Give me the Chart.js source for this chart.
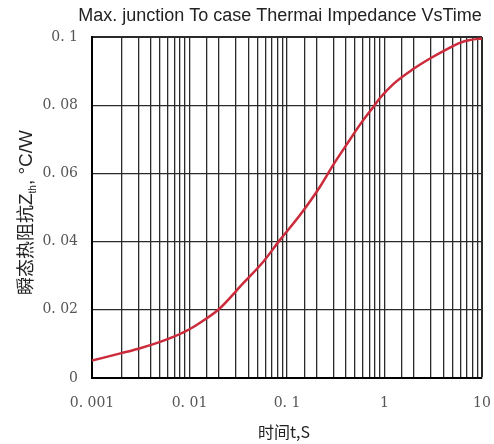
<!DOCTYPE html>
<html>
<head>
<meta charset="utf-8">
<script src="https://cdn.jsdelivr.net/npm/chart.js@4"></script>
<style>
  html, body { margin: 0; padding: 0; background: #fff; }
  #wrap { width: 494px; height: 444px; }
</style>
</head>
<body>
<div id="wrap"><canvas id="chart"></canvas></div>
<script>
// transient thermal impedance vs time
const times = [0.001, 0.002, 0.003, 0.005, 0.007, 0.01, 0.0133, 0.0197, 0.0356, 0.0571, 0.0847, 0.136, 0.218, 0.298, 0.41, 0.561, 0.768, 0.899, 1.23, 1.97, 2.93, 4.34, 5.95, 7.53, 10]
const zth = [0.0051, 0.0073, 0.0086, 0.0106, 0.0122, 0.0143, 0.0165, 0.02, 0.0278, 0.0341, 0.0405, 0.0478, 0.0561, 0.0625, 0.0685, 0.0743, 0.0795, 0.0821, 0.0862, 0.0906, 0.0937, 0.0964, 0.0983, 0.0991, 0.0996]

const xTickValues = [0.001, 0.01, 0.1, 1, 10]
const xTickLabels = ['0. 001', '0. 01', '0. 1', '1', '10']
const yTickValues = [0, 0.02, 0.04, 0.06, 0.08, 0.1]
const yTickLabels = ['0', '0. 02', '0. 04', '0. 06', '0. 08', '0. 1']

const titleText = 'Max. junction To case Thermai Impedance VsTime'
const xTitle = '时间t,S'

const tickFont = { family: "'DejaVu Serif', 'Liberation Serif', serif", size: 14 }

function sameValue(a, b) {
  return Math.abs(a - b) < 1e-9 * Math.max(1, Math.abs(b))
}

// titles drawn by hand so the Z subscript can be placed
const titles = {
  id: 'titles',
  afterDraw(chart) {
    const ctx = chart.ctx
    const area = chart.chartArea
    ctx.save()
    ctx.fillStyle = '#222'
    ctx.textBaseline = 'alphabetic'

    ctx.font = "18px 'Liberation Sans', Arial, sans-serif"
    ctx.textAlign = 'center'
    ctx.fillText(titleText, 280, 21)

    ctx.font = "16px 'Noto Sans CJK SC', 'Liberation Sans', sans-serif"
    ctx.fillText(xTitle, 284, 438)

    // y title, rotated
    ctx.translate(32, (area.top + area.bottom) / 2 + 5)
    ctx.rotate(-Math.PI / 2)
    const cjk = "18px 'Noto Sans CJK SC', sans-serif"
    const lat = "19px 'Liberation Sans', Arial, sans-serif"
    const sub = "10px 'Liberation Sans', Arial, sans-serif"
    const parts = [
      ['瞬态热阻抗', cjk, 0],
      ['Z', lat, 0],
      ['th', sub, 4],
      [', °C/W', lat, 0],
    ]
    let total = 0
    parts.forEach(([t, f]) => { ctx.font = f; total += ctx.measureText(t).width })
    let x = -total / 2
    ctx.textAlign = 'left'
    parts.forEach(([t, f, dy]) => {
      ctx.font = f
      ctx.fillText(t, x, dy)
      x += ctx.measureText(t).width
    })
    ctx.restore()
  },
}

new Chart(document.getElementById('chart'), {
  type: 'line',
  data: {
    datasets: [
      {
        data: times.map((t, i) => ({ x: t, y: zth[i] })),
        borderColor: '#cc2b3b',
        borderWidth: 2.5,
        pointRadius: 0,
        cubicInterpolationMode: 'monotone',
        fill: false,
      },
    ],
  },
  options: {
    responsive: true,
    maintainAspectRatio: false,
    animation: false,
    devicePixelRatio: 1,
    layout: { padding: { top: 37, right: 12, left: 0, bottom: 0 } },
    plugins: {
      legend: { display: false },
      tooltip: { enabled: false },
    },
    scales: {
      x: {
        type: 'logarithmic',
        min: 0.001,
        max: 10,
        afterFit: (scale) => {
          scale.height = 66
          scale.paddingLeft = 0
          scale.paddingRight = 0
        },
        grid: {
          color: '#2a2a2a',
          lineWidth: (c) => (c.tick && sameValue(c.tick.value, 10) ? 2 : 1.3),
          drawTicks: false,
        },
        border: { color: '#000', width: 2 },
        ticks: {
          autoSkip: false,
          maxRotation: 0,
          padding: 17,
          color: '#555',
          font: tickFont,
          callback: (v) => {
            const i = xTickValues.findIndex((d) => sameValue(v, d))
            return i >= 0 ? xTickLabels[i] : ''
          },
        },
      },
      y: {
        min: 0,
        max: 0.1,
        afterFit: (scale) => {
          scale.width = 92
          scale.paddingTop = 0
          scale.paddingBottom = 0
        },
        afterBuildTicks: (scale) => {
          scale.ticks = yTickValues.map((v) => ({ value: v }))
        },
        grid: {
          color: '#2a2a2a',
          lineWidth: (c) => (c.tick && sameValue(c.tick.value, 0.1) ? 2 : 1.3),
          drawTicks: false,
        },
        border: { color: '#000', width: 2 },
        ticks: {
          padding: 14,
          color: '#555',
          font: tickFont,
          callback: (v) => {
            const i = yTickValues.findIndex((d) => sameValue(v, d))
            return i >= 0 ? yTickLabels[i] : ''
          },
        },
      },
    },
  },
  plugins: [titles],
})
</script>
</body>
</html>
